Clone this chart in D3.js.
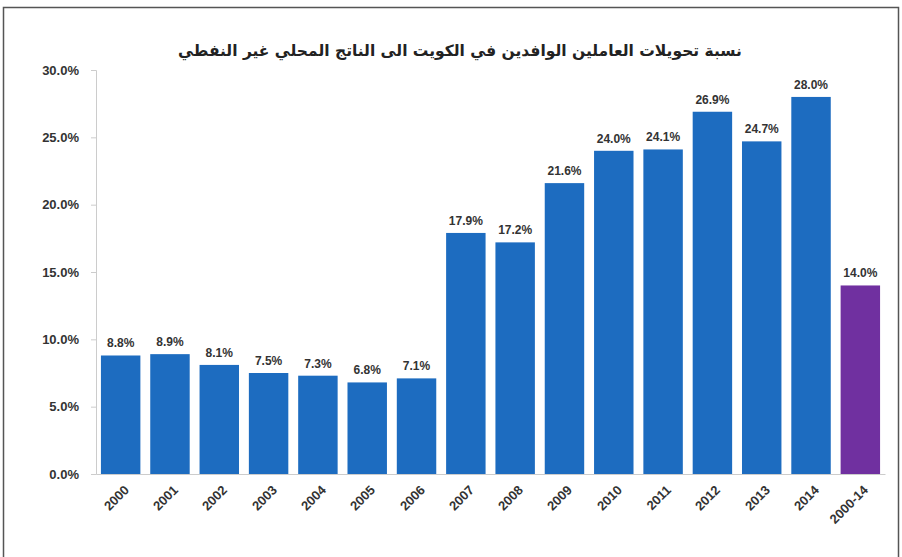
<!DOCTYPE html>
<html>
<head>
<meta charset="utf-8">
<script src="https://cdn.jsdelivr.net/npm/d3@7"></script>
<style>
  body { margin: 0; background: #fff; }
  #chart { position: relative; width: 902px; height: 557px; }
  svg { display: block; font-family: "Liberation Sans", Arial, sans-serif; }
  .xlab {
    position: absolute; font-family: "Liberation Sans", Arial, sans-serif;
    font-size: 13px; font-weight: bold; color: #333; white-space: nowrap;
    transform-origin: 100% 50%; transform: translate(-100%, -50%) rotate(-45deg);
    line-height: 14px;
  }
</style>
</head>
<body>
<div id="chart"></div>
<script>
// data
const years = ["2000","2001","2002","2003","2004","2005","2006","2007","2008","2009","2010","2011","2012","2013","2014","2000-14"];
const shares = [8.8, 8.9, 8.1, 7.5, 7.3, 6.8, 7.1, 17.9, 17.2, 21.6, 24.0, 24.1, 26.9, 24.7, 28.0, 14.0];
const yTicks = [0, 5, 10, 15, 20, 25, 30];
const title = "نسبة تحويلات العاملين الوافدين في الكويت الى الناتج المحلي غير النفطي";

const W = 902, H = 557;
const margin = {top: 70, right: 17, bottom: 83, left: 96};

const svg = d3.select("#chart").append("svg")
    .attr("width", W).attr("height", H);

// outer frame
svg.append("rect")
    .attr("x", 3.5).attr("y", 7.5)
    .attr("width", 895).attr("height", 560)
    .attr("fill", "none").attr("stroke", "#555").attr("stroke-width", 1.5);

const x = d3.scaleBand()
    .domain(years)
    .range([margin.left, W - margin.right])
    .paddingInner(0.2).paddingOuter(0.1);

const y = d3.scaleLinear()
    .domain([0, 30])
    .range([H - margin.bottom, margin.top]);

// title
svg.append("text")
    .attr("x", 460).attr("y", 56)
    .attr("text-anchor", "middle")
    .attr("direction", "rtl")
    .style("font-family", "'DejaVu Sans', sans-serif")
    .style("font-size", "15.5px").style("font-weight", "bold")
    .attr("fill", "#222")
    .text(title);

// y axis
const yAxis = svg.append("g")
    .attr("transform", "translate(" + margin.left + ",0)")
    .call(d3.axisLeft(y).tickValues(yTicks).tickSize(5).tickPadding(12)
        .tickFormat(d => d.toFixed(1) + "%"));
yAxis.select(".domain").attr("stroke", "#ccc");
yAxis.selectAll(".tick line").attr("stroke", "#ccc");
yAxis.selectAll("text")
    .style("font-size", "13px").style("font-weight", "bold")
    .attr("fill", "#333");

// x axis line
const xAxis = svg.append("g")
    .attr("transform", "translate(0," + (H - margin.bottom) + ")")
    .call(d3.axisBottom(x).tickSize(0).tickFormat(""));
xAxis.select(".domain").attr("stroke", "#ccc");

// rotated x labels as html, anchored at their right end
d3.select("#chart").selectAll(".xlab")
    .data(years)
    .join("div")
    .attr("class", "xlab")
    .style("left", d => (x(d) + x.bandwidth() / 2 + 6) + "px")
    .style("top", (H - margin.bottom + 14) + "px")
    .text(d => d);

// bars
svg.selectAll(".bar")
    .data(years)
    .join("rect")
    .attr("class", "bar")
    .attr("x", d => x(d))
    .attr("y", (d, i) => y(shares[i]))
    .attr("width", x.bandwidth())
    .attr("height", (d, i) => y(0) - y(shares[i]))
    .attr("fill", (d, i) => i === years.length - 1 ? "#7030a0" : "#1d6cc0");

// value labels
svg.selectAll(".lbl")
    .data(years)
    .join("text")
    .attr("class", "lbl")
    .attr("x", d => x(d) + x.bandwidth() / 2)
    .attr("y", (d, i) => y(shares[i]) - 8)
    .attr("text-anchor", "middle")
    .style("font-size", "12px").style("font-weight", "bold")
    .attr("fill", "#333")
    .text((d, i) => shares[i].toFixed(1) + "%");
</script>
</body>
</html>
